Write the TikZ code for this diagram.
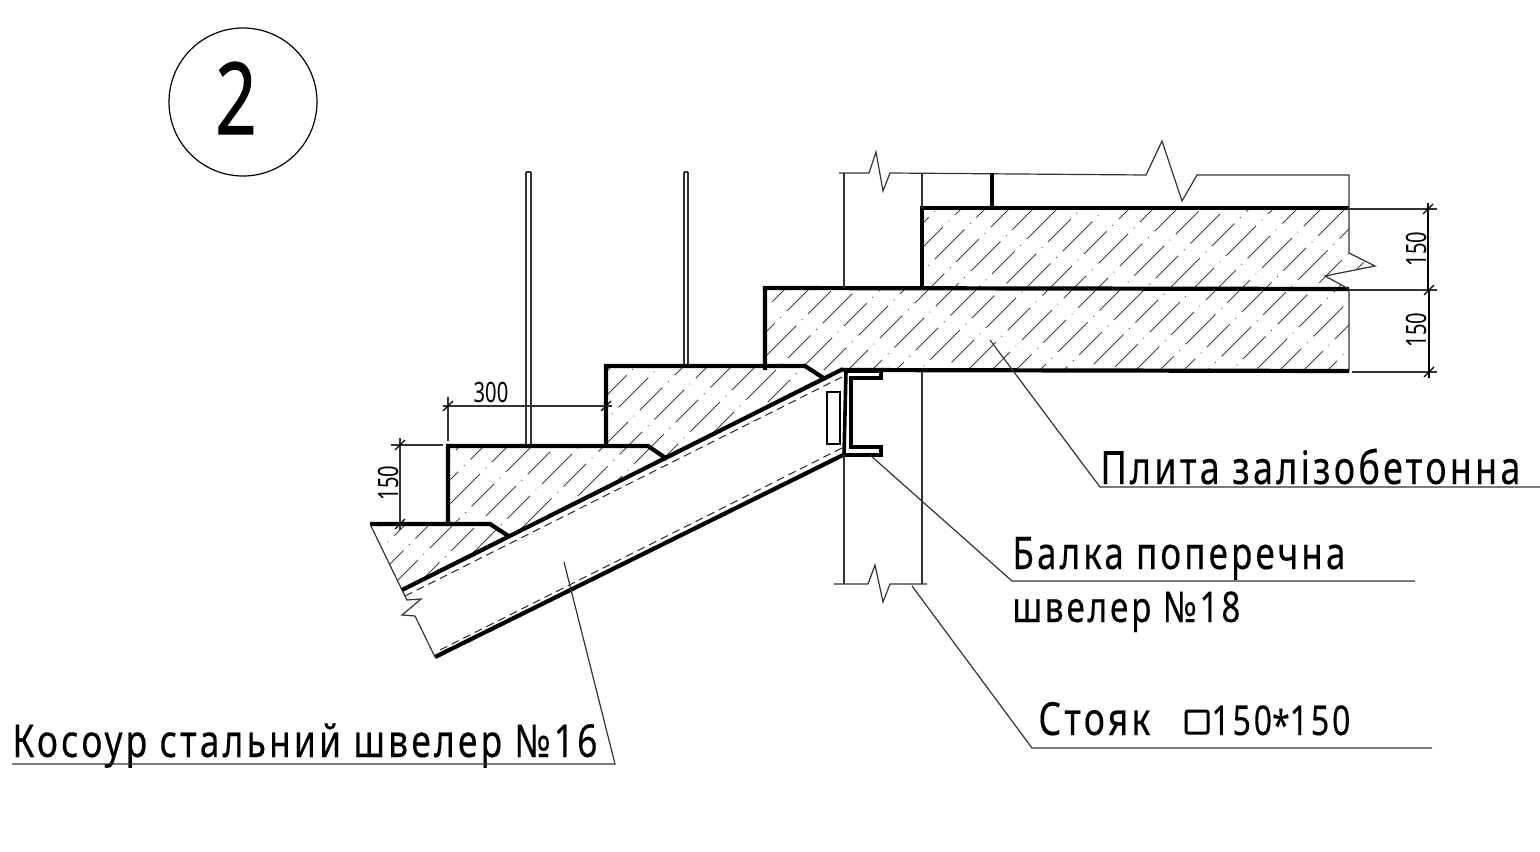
\documentclass[tikz,border=0pt]{standalone}
\usepackage{fontspec}
\usepackage{graphicx}
\setmainfont[FakeStretch=0.78,LetterSpace=7,FakeBold=0.25]{Noto Sans}
\newfontfamily\dimfont[FakeStretch=0.72]{Noto Sans}
\newfontfamily\bigfont[FakeStretch=0.72,FakeBold=0.9]{Noto Sans}
\newcommand{\fitw}[2]{\resizebox{#1}{!}{#2}}
\tikzset{
  heavy/.style={line width=2.1pt,line join=miter,black},
  mid/.style={line width=1.1pt,black},
  thin line/.style={line width=0.6pt,black!80},
  hair/.style={line width=0.5pt,black!75},
  dashes/.style={line width=0.5pt,black!85,dash pattern=on 4pt off 2.5pt},
  label/.style={anchor=base west,inner sep=0pt,font=\fontsize{21.5}{24}\selectfont},
  dimtext/.style={inner sep=0pt,font=\dimfont\fontsize{14}{16}\selectfont},
  tick/.style={line width=0.6pt,black}
}
\begin{document}
\begin{tikzpicture}[x=0.5pt,y=-0.5pt]
\useasboundingbox (0,0) rectangle (1540,851);
% mark circle
\node[draw,circle,line width=0.6pt,minimum size=74pt,inner sep=0pt] (mark) at (243,102) {};
\node[inner sep=0pt,font=\bigfont\fontsize{50}{56}\selectfont] (two) at (236,98) {2};
% hatching
\begin{scope}
\clip (370,524)--(448,524)--(448,446)--(606,446)--(606,366)--(765,366)--(765,288)--(922,288)--(922,208)--(1349,208)--(1349,253)--(1375,266)--(1325,276)--(1349,290)--(1349,371)--(843,370)--(402,590)--cycle;
\foreach \k in {0,...,45}{
  \pgfmathsetmacro{\c}{810+24*\k}
  \pgfmathsetmacro{\ph}{mod(\k*31.3,54)}
  \draw[hair,dash pattern=on 21pt off 4pt on 0.4pt off 4pt on 16pt off 4pt on 0.4pt off 4.2pt,dash phase=\ph pt] (\c-620,620)--(\c-180,180);
}
\end{scope}
% rails
\draw[thin line] (526,172)--(526,446) (531,172)--(531,446) (526,172)--(531,172);
\draw[thin line] (684,172)--(684,366) (688,172)--(688,366) (684,172)--(688,172);
% concrete outline
\draw[heavy] (922,288)--(922,208)--(1349,208);
\draw[heavy] (765,370)--(765,288)--(1349,289);
\draw[heavy] (843,370)--(1349,371);
\draw[heavy] (606,446)--(606,366)--(805,366)--(825,379);
\draw[heavy] (448,524)--(448,446)--(648,446)--(667,459);
\draw[heavy] (370,524)--(490,524)--(510,537);
\draw[thin line] (370,524)--(402,590);
\draw[thin line] (1349,208)--(1349,253)--(1375,266)--(1325,276)--(1349,289)--(1349,371);
% string
\draw[heavy] (402,590)--(843,369);
\draw[heavy] (435,657)--(843,455);
\draw[dashes] (405,596)--(842,377);
\draw[dashes] (440,650)--(842,448);
\draw[thin line] (402,590)--(407,600)--(421,599)--(402,615)--(415,616)--(435,657);
% channel
\draw[heavy,line width=1.8pt] (846,371)--(881,371)--(881,378)--(851,378)--(851,447)--(881,447)--(881,455)--(844,455)--cycle;
\draw[mid] (827,392) rectangle (840,444);
% column lines and breaks
\draw[thin line] (844,455)--(844,584) (922,371)--(922,584);
\draw[thin line] (834,584)--(868,584)--(875,565)--(883,602)--(890,584)--(927,584);
\draw[thin line] (844,173)--(844,288) (922,173)--(922,208);
\draw[thin line] (839,173)--(869,173)--(876,152)--(883,191)--(890,173)--(1146,175)--(1162,141)--(1182,201)--(1197,175)--(1349,175)--(1349,208);
\draw[heavy] (992,173)--(992,208);
% dimensions right
\draw[thin line] (1349,209)--(1437,209) (1352,372)--(1437,372);
\draw[thin line,line width=0.9pt] (1349,290)--(1437,290);
\draw[tick] (1428,203)--(1428,290) (1429,290)--(1429,378);
\foreach \y/\xx in {209/1428,290/1429,372/1429}{
  \draw[tick] (\xx-5,\y+5)--(\xx+5,\y-5);
}
\node[dimtext,rotate=90] (d150a) at (1416,249) {150};
\node[dimtext,rotate=90] (d150b) at (1416,330) {150};
% dimension 300
\draw[thin line] (443,406)--(612,406) (448,397)--(448,441);
\draw[tick] (443,411)--(453,401) (601,411)--(611,401);
\node[dimtext] (d300) at (491,392) {300};
% dimension 150 left
\draw[thin line] (391,445)--(443,445) (400,438)--(400,530);
\draw[tick] (395,450)--(405,440) (395,529)--(405,519);
\node[dimtext,rotate=90] (d150c) at (388,483) {150};
% labels
\node[label] (plyta) at (1100,484) {\fitw{210pt}{Плита залізобетонна}};
\node[label] (balka) at (1012,569) {\fitw{166.5pt}{Балка поперечна}};
\node[label] (shv) at (1012,622) {\fitw{114pt}{швелер №18}};
\node[label] (stoyak) at (1038,735) {\fitw{56pt}{Стояк}};
\node[label] (size) at (1211,735) {\fitw{69.5pt}{150\raisebox{-0.22ex}{*}150}};
\node[label] (kosour) at (12,757) {\fitw{292.5pt}{Косоур стальний швелер №16}};
\draw[line width=1.5pt,rounded corners=1pt] (1186,711) rectangle (1208,733);
% leaders
\coordinate (a1) at (990,340); \coordinate (a2) at (1100,487); \coordinate (a3) at (1540,487);
\coordinate (b1) at (870,455); \coordinate (b2) at (1012,581); \coordinate (b3) at (1415,581);
\coordinate (c1) at (912,586); \coordinate (c2) at (1032,748); \coordinate (c3) at (1432,748);
\coordinate (e1) at (564,562); \coordinate (e2) at (615,764); \coordinate (e3) at (12,764);
\draw[thin line] (a1)--(a2)--(a3);
\draw[thin line] (b1)--(b2)--(b3);
\draw[thin line] (c1)--(c2)--(c3);
\draw[thin line] (e1)--(e2)--(e3);
\end{tikzpicture}
\end{document}
